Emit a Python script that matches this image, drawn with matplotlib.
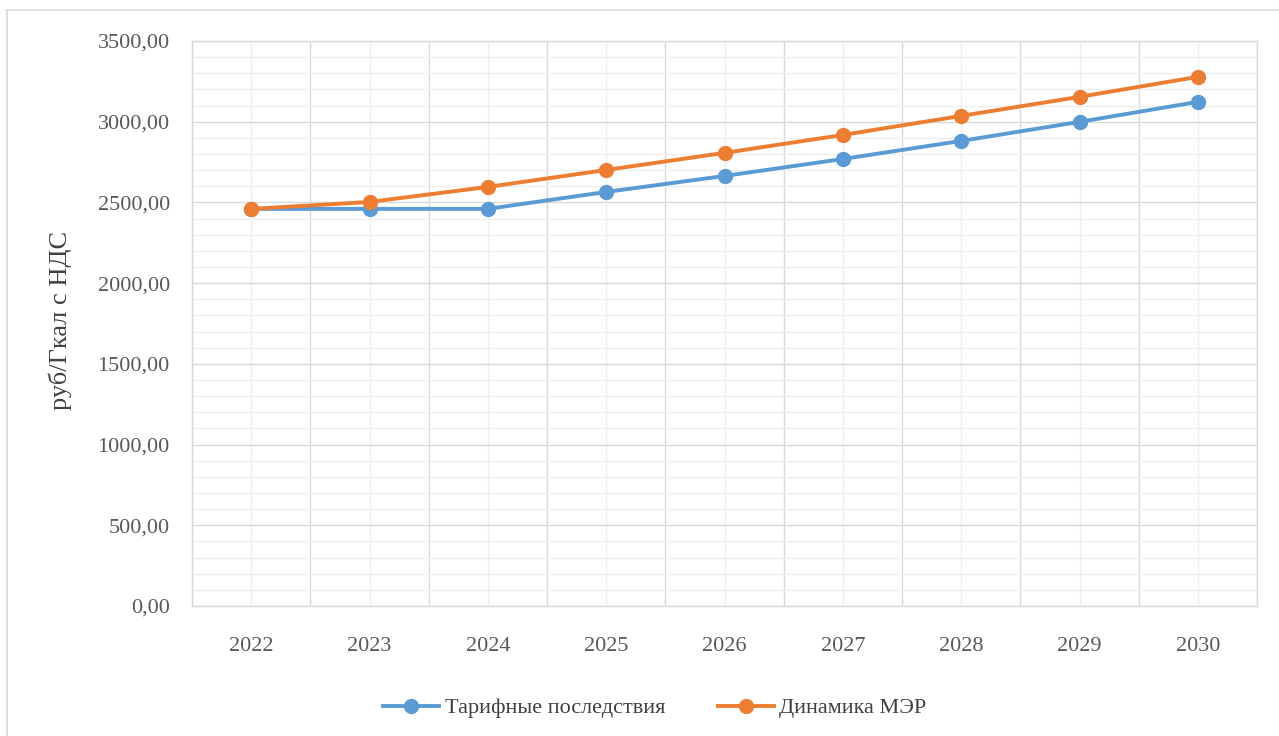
import matplotlib
matplotlib.use("Agg")
import matplotlib.pyplot as plt
from matplotlib.lines import Line2D
from matplotlib.ticker import MultipleLocator, FuncFormatter

years = ["2022", "2023", "2024", "2025", "2026", "2027", "2028", "2029", "2030"]
tariff = [2460, 2460, 2460, 2565, 2664, 2769, 2881, 2999, 3123]
mer = [2460, 2503, 2596, 2701, 2807, 2918, 3036, 3154, 3278]
series_names = ["Тарифные последствия", "Динамика МЭР"]
ylabel = "руб/Гкал с НДС"

plt.rcParams['font.family'] = ['Liberation Serif', 'DejaVu Serif']

fig = plt.figure(figsize=(12.79, 7.36), dpi=100)
fig.patch.set_facecolor("white")
ax = fig.add_axes([192/1279, 1-606/736, (1257-192)/1279, (606-41)/736])

x = list(range(len(years)))
ax.plot(x, tariff, color="#5b9bd5", lw=2.8, marker="o", ms=10, label=series_names[0], zorder=3)
ax.plot(x, mer, color="#ed7d31", lw=2.8, marker="o", ms=10, label=series_names[1], zorder=4)

ax.set_xlim(-0.5, len(years)-0.5)
ax.set_ylim(0, 3500)
ax.set_xticks(x)
ax.set_xticklabels(years)
ax.set_xticks([i-0.5 for i in range(len(years)+1)], minor=True)
ax.yaxis.set_major_locator(MultipleLocator(500))
ax.yaxis.set_minor_locator(MultipleLocator(100))
ax.yaxis.set_major_formatter(FuncFormatter(lambda v, p: f"{v:.2f}".replace(".", ",")))

ax.grid(axis="y", which="major", color="#d9d9d9", lw=1.0, zorder=0)
ax.grid(axis="y", which="minor", color="#efefef", lw=1.0, zorder=0)
ax.grid(axis="x", which="minor", color="#d9d9d9", lw=1.0, zorder=0)
ax.grid(axis="x", which="major", color="#efefef", lw=1.0, zorder=0)
ax.set_axisbelow(True)

for s in ax.spines.values():
    s.set_color("#d9d9d9")
    s.set_linewidth(1.0)

ax.tick_params(axis="both", which="both", length=0, labelsize=16, labelcolor="#595959")
ax.tick_params(axis="x", pad=22)
ax.tick_params(axis="y", pad=16)

ax.set_ylabel(ylabel, fontsize=19, color="#404040")
ax.yaxis.set_label_coords(-0.113, 0.505)

leg = fig.legend(loc="center", bbox_to_anchor=(655/1279, 1-708/736), ncol=2, frameon=False,
                 fontsize=16, handlelength=2.5, columnspacing=2.4, handletextpad=0.25)
for t in leg.get_texts():
    t.set_color("#404040")

# outer chart frame
fig.add_artist(Line2D([7/1279, 1.0], [1-10/736, 1-10/736], color="#d9d9d9", lw=1.2, transform=fig.transFigure))
fig.add_artist(Line2D([7/1279, 7/1279], [0, 1-10/736], color="#d9d9d9", lw=1.2, transform=fig.transFigure))

fig.savefig("out.png", dpi=100, facecolor="white")
